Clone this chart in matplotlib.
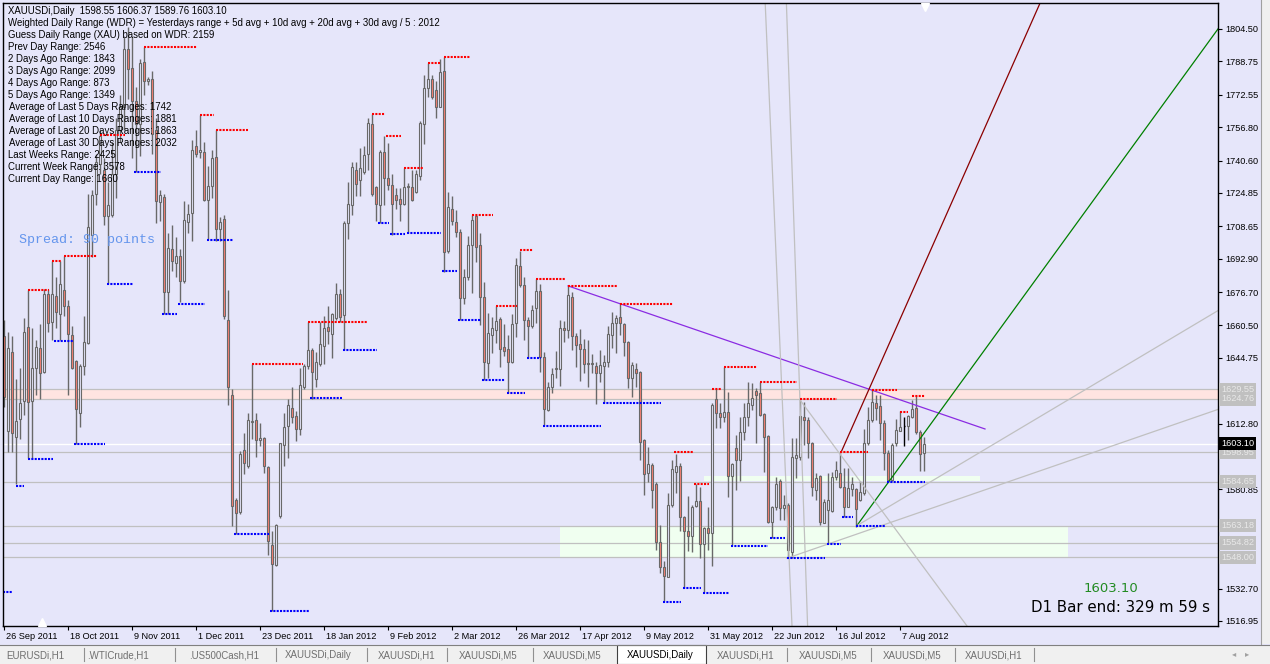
import matplotlib
matplotlib.use('Agg')
import matplotlib.pyplot as plt
import matplotlib.transforms as mtransforms
from matplotlib.patches import Rectangle

plt.rcParams['font.family'] = ['Liberation Sans', 'DejaVu Sans']

# daily candles, XAUUSDi 26 Sep 2011 .. 15 Aug 2012
opens = [
    1655.4, 1609.3, 1647.7, 1606.4, 1615.1, 1623.7, 1659.6, 1623.7, 1640.0, 1649.6,
    1637.7, 1675.6, 1662.1, 1674.6, 1666.0, 1677.5, 1669.8, 1655.8, 1643.3, 1617.9,
    1641.0, 1651.9, 1704.4, 1724.5, 1738.9, 1736.0, 1713.4, 1714.0, 1734.1, 1755.2,
    1766.8, 1794.6, 1785.6, 1769.6, 1758.1, 1788.5, 1779.2, 1780.2, 1755.2, 1720.3,
    1723.0, 1676.5, 1697.6, 1690.9, 1694.2, 1682.3, 1710.7, 1714.9, 1747.6, 1744.7,
    1744.7, 1721.6, 1728.4, 1742.2, 1707.2, 1712.0, 1663.1, 1626.6, 1575.7, 1570.0,
    1600.1, 1592.4, 1613.5, 1614.7, 1604.9, 1605.9, 1591.5, 1554.0, 1544.0, 1568.0,
    1602.6, 1611.6, 1620.2, 1616.6, 1610.3, 1630.4, 1641.0, 1648.7, 1634.3, 1641.9,
    1650.6, 1659.6, 1656.4, 1664.0, 1675.6, 1665.4, 1710.1, 1718.8, 1736.0, 1731.2,
    1735.1, 1743.7, 1758.1, 1727.8, 1719.1, 1744.7, 1732.2, 1728.7, 1724.0, 1722.0,
    1719.7, 1727.6, 1727.8, 1725.5, 1733.2, 1758.1, 1776.0, 1780.2, 1774.8, 1766.8,
    1784.0, 1696.7, 1717.2, 1710.7, 1705.7, 1673.6, 1683.9, 1699.6, 1713.4, 1699.6,
    1674.2, 1642.1, 1655.9, 1658.3, 1663.7, 1650.1, 1649.1, 1642.9, 1661.6, 1689.4,
    1680.0, 1663.2, 1660.4, 1668.8, 1677.3, 1645.1, 1619.5, 1630.5, 1639.2, 1639.2,
    1659.1, 1658.3, 1674.5, 1655.4, 1651.5, 1649.1, 1642.1, 1642.0, 1640.7, 1637.6,
    1641.0, 1642.5, 1655.9, 1661.9, 1664.5, 1661.1, 1652.5, 1634.8, 1639.2, 1637.8,
    1604.9, 1588.7, 1592.6, 1583.5, 1555.5, 1543.0, 1538.5, 1573.3, 1589.5, 1592.3,
    1567.3, 1560.7, 1558.3, 1573.0, 1575.3, 1554.2, 1562.3, 1559.6, 1624.6, 1617.9,
    1615.9, 1618.3, 1587.6, 1600.8, 1595.2, 1608.6, 1615.9, 1621.9, 1628.4, 1627.6,
    1617.5, 1606.8, 1565.2, 1572.5, 1585.1, 1571.7, 1573.3, 1550.2, 1596.0, 1596.8,
    1616.2, 1614.6, 1603.6, 1580.6, 1587.4, 1564.7, 1570.9, 1570.6, 1586.8, 1588.7,
    1582.2, 1572.5, 1580.9, 1580.9, 1575.8, 1579.0, 1603.3, 1614.6, 1623.0, 1621.4,
    1613.3, 1598.7, 1585.5, 1603.3, 1609.4, 1611.7, 1611.4, 1615.9, 1620.3, 1608.5,
    1598.55]
highs = [
    1663.1, 1657.3, 1655.4, 1634.3, 1640.0, 1664.0, 1677.5, 1659.2, 1653.5, 1661.2,
    1678.4, 1678.4, 1691.9, 1684.2, 1691.9, 1694.2, 1672.7, 1660.2, 1643.9, 1641.9,
    1665.0, 1724.5, 1726.4, 1743.7, 1755.2, 1741.8, 1730.3, 1749.5, 1761.0, 1772.5,
    1800.4, 1805.2, 1800.4, 1776.4, 1789.8, 1795.6, 1781.2, 1784.0, 1761.0, 1726.4,
    1724.5, 1705.3, 1709.2, 1703.4, 1697.6, 1720.7, 1719.7, 1750.4, 1755.2, 1762.9,
    1749.5, 1738.0, 1745.6, 1755.2, 1713.0, 1713.9, 1677.5, 1629.5, 1576.7, 1599.7,
    1608.4, 1618.0, 1641.6, 1618.0, 1613.2, 1606.4, 1592.0, 1560.4, 1564.2, 1603.6,
    1618.0, 1624.7, 1630.4, 1618.9, 1640.0, 1641.9, 1662.1, 1649.6, 1647.7, 1662.1,
    1665.0, 1669.8, 1666.5, 1681.3, 1678.4, 1711.1, 1730.3, 1739.9, 1739.9, 1746.6,
    1747.6, 1761.0, 1763.3, 1728.4, 1745.6, 1752.4, 1749.0, 1734.1, 1727.4, 1727.4,
    1737.0, 1729.9, 1736.0, 1736.0, 1760.0, 1782.1, 1787.9, 1782.1, 1779.2, 1789.8,
    1790.8, 1725.5, 1723.6, 1716.5, 1707.2, 1688.0, 1703.7, 1714.2, 1714.2, 1705.3,
    1681.8, 1666.4, 1664.8, 1669.7, 1664.8, 1661.2, 1655.9, 1666.1, 1693.1, 1696.4,
    1683.9, 1664.8, 1670.5, 1682.9, 1680.7, 1647.8, 1633.2, 1639.7, 1648.3, 1662.9,
    1662.4, 1679.7, 1676.9, 1657.0, 1658.6, 1653.8, 1653.5, 1646.7, 1642.9, 1648.6,
    1646.2, 1660.3, 1667.1, 1665.6, 1671.3, 1661.9, 1653.0, 1642.5, 1642.1, 1638.4,
    1605.2, 1601.3, 1593.9, 1584.6, 1563.6, 1546.3, 1579.0, 1595.2, 1598.1, 1593.6,
    1568.0, 1577.4, 1573.3, 1583.5, 1582.2, 1562.8, 1572.5, 1622.7, 1629.5, 1623.0,
    1640.5, 1628.0, 1593.6, 1607.3, 1616.2, 1622.7, 1633.2, 1632.7, 1630.0, 1633.2,
    1617.9, 1607.3, 1573.0, 1587.1, 1585.8, 1578.2, 1574.1, 1605.7, 1605.7, 1624.3,
    1623.5, 1616.2, 1604.1, 1588.7, 1587.9, 1576.1, 1588.7, 1589.5, 1594.4, 1598.4,
    1591.1, 1591.1, 1587.1, 1581.4, 1584.7, 1610.1, 1621.1, 1629.2, 1626.7, 1626.7,
    1614.6, 1600.0, 1603.3, 1615.0, 1618.7, 1616.2, 1617.0, 1624.3, 1626.0, 1609.8,
    1606.37]
lows = [
    1620.8, 1598.8, 1598.8, 1583.4, 1605.5, 1617.0, 1595.9, 1595.9, 1626.6, 1624.7,
    1637.2, 1657.3, 1653.5, 1659.2, 1653.5, 1665.0, 1626.6, 1639.1, 1603.1, 1611.2,
    1636.2, 1651.6, 1693.8, 1718.8, 1734.1, 1709.2, 1681.3, 1713.0, 1722.6, 1749.5,
    1755.2, 1770.6, 1741.8, 1735.1, 1742.8, 1772.5, 1777.3, 1743.7, 1710.1, 1711.1,
    1666.0, 1666.0, 1687.1, 1684.2, 1671.7, 1681.3, 1705.3, 1701.5, 1742.5, 1741.8,
    1720.7, 1702.4, 1722.6, 1701.5, 1701.5, 1663.5, 1621.8, 1563.2, 1559.4, 1569.0,
    1588.2, 1591.1, 1605.5, 1596.8, 1602.0, 1588.6, 1548.8, 1522.0, 1543.7, 1567.1,
    1592.0, 1595.9, 1613.2, 1604.5, 1607.4, 1629.5, 1639.1, 1624.7, 1630.4, 1641.0,
    1641.9, 1651.6, 1644.8, 1663.1, 1662.1, 1648.7, 1702.4, 1714.0, 1723.6, 1723.6,
    1734.1, 1736.0, 1723.6, 1711.1, 1710.1, 1718.8, 1726.4, 1704.4, 1716.8, 1711.1,
    1718.8, 1705.3, 1720.7, 1724.9, 1731.2, 1748.5, 1771.6, 1770.6, 1761.0, 1766.4,
    1686.5, 1695.7, 1709.2, 1703.4, 1663.1, 1670.8, 1682.6, 1676.1, 1691.5, 1660.8,
    1634.0, 1634.8, 1647.0, 1651.8, 1640.5, 1645.7, 1627.6, 1642.1, 1654.8, 1679.0,
    1653.5, 1644.6, 1659.1, 1661.6, 1638.1, 1611.9, 1619.0, 1627.9, 1634.8, 1631.3,
    1652.2, 1654.3, 1648.6, 1640.5, 1633.7, 1637.3, 1630.5, 1637.6, 1622.4, 1633.2,
    1623.0, 1640.5, 1649.4, 1647.0, 1655.9, 1645.4, 1630.0, 1625.9, 1630.8, 1595.2,
    1578.2, 1584.6, 1571.7, 1551.5, 1540.1, 1526.4, 1538.2, 1572.5, 1579.0, 1560.4,
    1532.8, 1550.7, 1550.2, 1572.5, 1547.4, 1531.2, 1551.5, 1543.4, 1610.6, 1610.6,
    1613.8, 1577.0, 1553.9, 1580.6, 1584.7, 1604.9, 1611.4, 1619.5, 1603.3, 1616.5,
    1589.5, 1564.7, 1557.1, 1570.9, 1566.0, 1566.0, 1547.4, 1547.4, 1586.3, 1595.2,
    1602.5, 1596.0, 1577.4, 1575.7, 1563.6, 1564.4, 1554.4, 1570.1, 1585.5, 1581.4,
    1567.3, 1572.2, 1577.4, 1562.8, 1575.4, 1578.2, 1602.5, 1613.8, 1614.6, 1604.9,
    1590.3, 1584.7, 1585.1, 1601.7, 1609.0, 1602.0, 1604.9, 1615.4, 1607.8, 1590.0,
    1589.76]
closes = [
    1625.6, 1649.6, 1608.4, 1614.1, 1622.8, 1657.3, 1623.3, 1640.0, 1650.2, 1637.2,
    1675.6, 1661.5, 1675.6, 1666.9, 1680.4, 1669.8, 1656.4, 1639.7, 1619.9, 1641.0,
    1652.5, 1708.2, 1723.6, 1739.9, 1752.4, 1713.4, 1718.8, 1734.1, 1755.2, 1766.8,
    1794.6, 1785.0, 1769.6, 1758.1, 1787.9, 1779.2, 1780.2, 1753.3, 1720.7, 1723.6,
    1676.5, 1698.2, 1691.9, 1694.2, 1681.9, 1711.7, 1714.5, 1745.6, 1743.7, 1745.6,
    1721.6, 1728.4, 1741.8, 1707.2, 1710.5, 1665.0, 1630.4, 1572.8, 1569.4, 1598.2,
    1593.6, 1614.7, 1614.3, 1604.9, 1605.9, 1592.0, 1555.6, 1544.4, 1563.6, 1603.2,
    1611.2, 1621.8, 1616.0, 1610.3, 1631.4, 1641.0, 1648.7, 1638.1, 1642.9, 1651.6,
    1659.2, 1657.7, 1665.9, 1675.6, 1664.6, 1710.1, 1719.7, 1737.6, 1729.3, 1737.0,
    1743.3, 1758.7, 1724.5, 1719.3, 1744.7, 1732.2, 1728.7, 1719.7, 1721.3, 1719.7,
    1727.8, 1728.0, 1721.3, 1734.1, 1758.7, 1776.0, 1780.2, 1771.6, 1766.8, 1783.7,
    1696.1, 1717.8, 1711.1, 1705.7, 1673.6, 1683.8, 1699.6, 1711.8, 1698.8, 1674.5,
    1642.9, 1656.7, 1659.1, 1662.4, 1648.9, 1648.3, 1642.9, 1661.1, 1689.9, 1680.0,
    1662.9, 1660.4, 1668.0, 1677.3, 1645.1, 1619.8, 1630.5, 1637.0, 1639.9, 1659.1,
    1658.2, 1675.3, 1655.4, 1650.9, 1648.9, 1641.6, 1641.6, 1641.8, 1637.6, 1641.3,
    1642.9, 1656.2, 1661.6, 1664.0, 1661.6, 1652.2, 1634.8, 1641.3, 1637.3, 1604.1,
    1588.2, 1593.1, 1580.6, 1555.5, 1543.0, 1538.8, 1573.3, 1590.6, 1592.0, 1567.3,
    1560.4, 1558.3, 1572.5, 1575.3, 1554.2, 1562.3, 1559.6, 1621.9, 1617.9, 1615.9,
    1618.3, 1587.6, 1593.1, 1595.2, 1608.6, 1615.9, 1622.7, 1625.1, 1626.8, 1617.0,
    1606.5, 1565.2, 1572.5, 1583.5, 1571.7, 1573.3, 1551.5, 1596.8, 1597.6, 1616.5,
    1614.6, 1603.3, 1582.2, 1586.3, 1565.2, 1574.9, 1575.8, 1587.1, 1590.3, 1582.2,
    1572.5, 1581.4, 1583.5, 1571.2, 1579.8, 1603.3, 1614.6, 1623.5, 1620.3, 1613.3,
    1598.7, 1585.5, 1602.5, 1609.8, 1611.0, 1611.7, 1616.5, 1619.8, 1608.5, 1598.1,
    1603.10]
black_bars = [225]

date_ticks = [0, 16, 32, 48, 64, 80, 96, 112, 128, 144, 160, 176, 192, 208, 224]
date_labels = ['26 Sep 2011', '18 Oct 2011', '9 Nov 2011', '1 Dec 2011', '23 Dec 2011',
               '18 Jan 2012', '9 Feb 2012', '2 Mar 2012', '26 Mar 2012', '17 Apr 2012',
               '9 May 2012', '31 May 2012', '22 Jun 2012', '16 Jul 2012', '7 Aug 2012']
price_ticks = [1804.50, 1788.75, 1772.55, 1756.80, 1740.60, 1724.85, 1708.65, 1692.90,
               1676.70, 1660.50, 1644.75, 1628.55, 1612.80, 1596.60, 1580.85, 1564.65,
               1548.90, 1532.70, 1516.95]
# scale labels hidden under the level boxes
hidden_ticks = [1628.55, 1596.60, 1564.65, 1548.90]

# swing high / low marks: (first bar, last bar, price)
high_marks = [(6, 11.25, 1677.5), (12, 14.25, 1691.9), (15, 23.25, 1694.2), (24, 30.25, 1753.0),
              (35, 48.25, 1795.6), (49, 52.5, 1762.8), (53, 61, 1755.5), (62, 74.75, 1641.6),
              (76, 91, 1662.1), (92, 95.25, 1763.3), (95.5, 99.25, 1752.4), (100, 105, 1737.0),
              (106, 109, 1787.9), (110, 116.5, 1790.8), (117, 122.25, 1713.9), (123, 128.25, 1670.0),
              (129, 132.25, 1696.9), (133, 140.25, 1683.1), (141, 153.25, 1679.7), (154, 167.25, 1671.0),
              (167.5, 172.25, 1598.9), (172.5, 176.25, 1583.6), (177, 179.25, 1629.7),
              (180, 188.25, 1640.5), (189, 198.25, 1633.1), (199, 208.25, 1624.7),
              (209, 216, 1598.8), (217, 223.25, 1629.2), (224, 226, 1618.2), (227, 230.25, 1626.0)]
low_marks = [(-0.2, 2, 1531.2), (3, 5, 1582.4), (6, 12.25, 1595.5), (12.5, 17.25, 1653.0),
             (17.5, 25.25, 1603.1), (25.75, 32.25, 1680.7), (32.5, 39.25, 1735.0), (39.5, 43.25, 1666.0),
             (43.5, 50.25, 1671.1), (50.75, 57.25, 1701.9), (57.5, 66.25, 1559.4), (66.5, 76.25, 1521.9),
             (76.5, 84.5, 1625.0), (84.75, 93.25, 1648.7), (93.5, 96.25, 1710.0), (96.5, 100.25, 1704.7),
             (100.75, 109.25, 1705.3), (109.5, 113.25, 1686.7), (113.5, 119.25, 1663.1),
             (119.5, 125.25, 1634.2), (125.75, 130.25, 1627.9), (130.75, 134.25, 1644.8),
             (134.75, 149.25, 1611.7), (149.75, 164.25, 1622.6), (164.75, 169.25, 1526.3),
             (169.75, 174.25, 1532.8), (174.75, 181.25, 1530.7), (181.75, 191, 1553.4),
             (191.5, 195.25, 1557.4), (195.75, 205.25, 1547.4), (205.75, 209.25, 1554.4),
             (209.5, 212.25, 1567.3), (213, 220.25, 1563.2), (220.75, 230.25, 1584.3)]

# horizontal levels drawn on the chart
gray_levels = [1629.55, 1624.76, 1598.95, 1584.65, 1563.18, 1554.82, 1548.00]
bid = 1603.10

# trend lines: (bar0, price0, bar1, price1, colour)
trend_lines = [(141, 1679.7, 245.25, 1610.2, '#8A2BE2'),
               (209.25, 1598.8, 259.0, 1817.0, '#8B0000'),
               (213.2, 1563.2, 303.5, 1804.5, '#008000'),
               (195.7, 1547.4, 303.5, 1619.7, '#C0C0C0'),
               (213.2, 1563.2, 303.5, 1667.7, '#C0C0C0'),
               (199.0, 1624.3, 240.75, 1514.5, '#C0C0C0'),
               (190.3, 1817.1, 197.0, 1514.5, '#C0C0C0'),
               (195.6, 1817.1, 200.9, 1514.5, '#C0C0C0')]

info_lines = ['XAUUSDi,Daily  1598.55 1606.37 1589.76 1603.10',
              'Weighted Daily Range (WDR) = Yesterdays range + 5d avg + 10d avg + 20d avg + 30d avg / 5 : 2012',
              'Guess Daily Range (XAU) based on WDR: 2159',
              'Prev Day Range: 2546',
              '2 Days Ago Range: 1843',
              '3 Days Ago Range: 2099',
              '4 Days Ago Range: 873',
              '5 Days Ago Range: 1349',
              'Average of Last 5 Days Ranges: 1742',
              'Average of Last 10 Days Ranges: 1881',
              'Average of Last 20 Days Ranges: 1863',
              'Average of Last 30 Days Ranges: 2032',
              'Last Weeks Range: 2425',
              'Current Week Range: 3578',
              'Current Day Range: 1660']

tabs = ['EURUSDi,H1', '.WTICrude,H1', '.US500Cash,H1', 'XAUUSDi,Daily', 'XAUUSDi,H1',
        'XAUUSDi,M5', 'XAUUSDi,M5', 'XAUUSDi,Daily', 'XAUUSDi,H1', 'XAUUSDi,M5',
        'XAUUSDi,M5', 'XAUUSDi,H1']
active_tab = 7

BG = '#E6E6FA'
W, H = 1270, 664

fig = plt.figure(figsize=(W / 100, H / 100), dpi=100)
fig.patch.set_facecolor(BG)


def fx(px):
    return px / W


def fy(py):
    return 1 - py / H


ax = fig.add_axes([fx(3), fy(626), fx(1215), 623 / H])
ax.set_facecolor(BG)
ax.set_xlim(-0.25, 303.5)
ax.set_ylim(1514.5, 1817.1)
for s in ax.spines.values():
    s.set_color('black')
    s.set_linewidth(1.0)

# bands, boxes and levels
ax.axhspan(1624.76, 1629.55, color='#FFE4E1', zorder=0.3, lw=0)
ax.add_patch(Rectangle((139, 1548.0), 127, 1563.18 - 1548.0, facecolor='#F0FFF0', lw=0, zorder=0.3))
ax.add_patch(Rectangle((175, 1585.0), 69, 2.2, facecolor='#F0FFF0', lw=0, zorder=0.3))
for lv in gray_levels:
    ax.axhline(lv, color='#C0C0C0', lw=0.9, zorder=0.5)
ax.axhline(bid, color='white', lw=1.0, zorder=0.5)

# candles
for i in range(len(opens)):
    o, h, l, c = opens[i], highs[i], lows[i], closes[i]
    if i in black_bars:
        ax.vlines(i, l, h, color='black', lw=1.0, zorder=2)
        ax.hlines(c, i - 0.1, i + 0.35, color='black', lw=1.0, zorder=2)
        continue
    ax.vlines(i, l, h, color='#696969', lw=1.0, zorder=1.5)
    lo, hi = min(o, c), max(o, c)
    fill = '#FA8072' if c < o else BG
    ax.add_patch(Rectangle((i - 0.28, lo), 0.56, max(hi - lo, 0.4), facecolor=fill,
                           edgecolor='#696969', lw=0.8, zorder=1.6))

# swing marks
for b0, b1, p in high_marks:
    ax.plot([b0, b1], [p, p], color='#FF0000', lw=1.5, ls=(0, (1, 0.6)), zorder=2.5,
            solid_capstyle='butt', dash_capstyle='butt')
for b0, b1, p in low_marks:
    ax.plot([b0, b1], [p, p], color='#0000FF', lw=1.5, ls=(0, (1, 0.6)), zorder=2.5,
            solid_capstyle='butt', dash_capstyle='butt')

# trend lines
for b0, p0, b1, p1, col in trend_lines:
    ax.plot([b0, b1], [p0, p1], color=col, lw=0.9, zorder=2.2)

# axes ticks
ax.yaxis.tick_right()
ax.set_yticks(price_ticks)
ax.set_yticklabels(['' if v in hidden_ticks else '%.2f' % v for v in price_ticks])
ax.tick_params(axis='y', direction='out', length=3, width=0.8, pad=2, labelsize=6.6,
               colors='black')
ax.set_xticks(date_ticks)
ax.set_xticklabels(date_labels, ha='left')
ax.tick_params(axis='x', direction='out', length=3, width=0.8, pad=1.5, labelsize=6.6,
               colors='black')
off = mtransforms.ScaledTranslation(1.5 / 72, 0, fig.dpi_scale_trans)
for lab in ax.get_xticklabels():
    lab.set_transform(lab.get_transform() + off)

# price boxes on the right scale
ytr = ax.get_yaxis_transform()
for lv in gray_levels:
    ax.text(1 + 3 / 1215, lv, '%.2f' % lv, transform=ytr, ha='left', va='center',
            fontsize=6.6, color='#E8E8E8', clip_on=False, zorder=5,
            bbox=dict(boxstyle='square,pad=0.22', facecolor='#C0C0C0', edgecolor='none'))
ax.text(1 + 3 / 1215, bid, '%.2f' % bid, transform=ytr, ha='left', va='center',
        fontsize=6.6, color='white', clip_on=False, zorder=6,
        bbox=dict(boxstyle='square,pad=0.22', facecolor='black', edgecolor='none'))

# chart shift markers
ax.plot([(925 - 3) / 1215], [0.993], marker='v', ms=6, color='white', transform=ax.transAxes,
        clip_on=False, zorder=6)
ax.plot([(42 - 3) / 1215], [0.006], marker='^', ms=6, color='white', transform=ax.transAxes,
        clip_on=False, zorder=6)

# info text
for k, line in enumerate(info_lines):
    x0 = 9 if line.startswith('Average') else 8
    fig.text(fx(x0), fy(10.5 + 12 * k), line, fontsize=6.95, color='black', va='center', ha='left')

fig.text(fx(19), fy(240), 'Spread: 90 points', family=['Liberation Mono', 'DejaVu Sans Mono'],
         fontsize=9.6, color='#6495ED', va='center', ha='left')
fig.text(fx(1111), fy(588), '1603.10', family=['DejaVu Sans'], fontsize=9.5, color='#228B22',
         va='center', ha='center')
fig.text(fx(1210), fy(608), 'D1 Bar end: 329 m 59 s', family=['DejaVu Sans'], fontsize=10.8,
         color='black', va='center', ha='right')

# right window edge
fig.patches.append(Rectangle((fx(1261), fy(644)), fx(9), 644 / H, transform=fig.transFigure,
                             facecolor='#F0F0F0', edgecolor='none', zorder=0))
fig.lines.append(plt.Line2D([fx(1261), fx(1261)], [fy(644), 1], transform=fig.transFigure,
                            color='#A0A0A0', lw=0.8))

# tab bar
fig.patches.append(Rectangle((0, 0), 1, 19 / H, transform=fig.transFigure,
                             facecolor='#F0F0F0', edgecolor='none', zorder=0))
fig.lines.append(plt.Line2D([0, 1], [fy(644.5), fy(644.5)], transform=fig.transFigure,
                            color='#808080', lw=0.8))
fig.patches.append(Rectangle((fx(617), 0), fx(89), 19.5 / H, transform=fig.transFigure,
                             facecolor='white', edgecolor='#404040', lw=0.8, zorder=1))
tab_x = [35, 118, 224, 318, 407, 488, 572, 660, 746, 828, 912, 994]
sep_x = [84, 175.5, 275.5, 367, 447, 533, 787, 871, 954.5, 1034]
for k, (t, xx) in enumerate(zip(tabs, tab_x)):
    fig.text(fx(xx), fy(655), t, fontsize=7.0, ha='center', va='center',
             color='black' if k == active_tab else '#707070', zorder=3)
for xx in sep_x:
    fig.lines.append(plt.Line2D([fx(xx), fx(xx)], [fy(648), fy(661)], transform=fig.transFigure,
                                color='#909090', lw=0.8))
fig.text(fx(1234), fy(655), '\u25c2', fontsize=6, color='#A0A0A0', ha='center', va='center')
fig.text(fx(1247), fy(655), '\u25b8', fontsize=6, color='#A0A0A0', ha='center', va='center')

fig.savefig('out.png', dpi=100, facecolor=BG)
